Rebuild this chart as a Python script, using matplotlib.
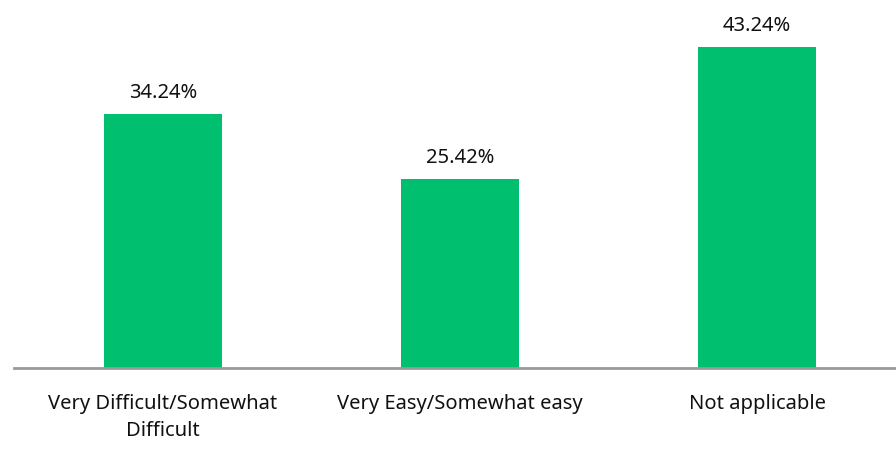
import matplotlib.pyplot as plt

categories = ['Very Difficult/Somewhat\nDifficult', 'Very Easy/Somewhat easy', 'Not applicable']
values = [34.24, 25.42, 43.24]

plt.rcParams['font.family'] = ['Noto Sans', 'DejaVu Sans']

fig = plt.figure(figsize=(8.96, 4.5), dpi=100)
ax = fig.add_axes([14 / 896, 82 / 450, 882 / 896, 363 / 450])

x = range(len(values))
bars = ax.bar(x, values, width=0.4, color='#00BF6F')

for b, v in zip(bars, values):
    ax.annotate(f'{v:.2f}%', (b.get_x() + b.get_width() / 2, v),
                xytext=(0, 8), textcoords='offset points',
                ha='center', va='bottom', fontsize=14.5, color='#111111')

ax.set_xlim(-0.502, 2.468)
ax.set_ylim(0, 48.9)
ax.set_xticks(list(x))
ax.set_xticklabels(categories, fontsize=14.5, color='#111111', linespacing=1.45)
ax.tick_params(axis='x', length=0, pad=19)
ax.set_yticks([])

for s in ['top', 'right', 'left']:
    ax.spines[s].set_visible(False)
ax.spines['bottom'].set_color('#999999')
ax.spines['bottom'].set_linewidth(2)

fig.savefig('out.png', dpi=100)
